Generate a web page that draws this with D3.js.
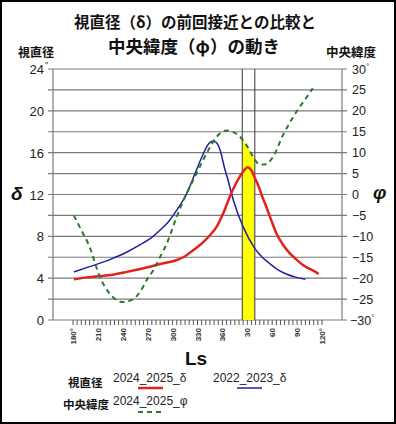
<!DOCTYPE html>
<html><head><meta charset="utf-8">
<script src="https://cdn.jsdelivr.net/npm/d3@7"></script>
<style>body{margin:0;background:#fff}</style>
</head><body>
<svg id="c" width="396" height="424"></svg>
<script>
// ---- data ----
const lsRed    = [181,200,225,245,261,285,305,315,325,335,345,353,361,369,376,381,386,390.5,395,399,403,408,413,419,425,433,441,449,457,465,470,476];
const deltaRed = [3.9,4.1,4.3,4.6,4.87,5.35,5.74,6.1,6.7,7.3,8.1,8.9,10.2,11.8,13.0,13.7,14.3,14.6,14.3,13.6,12.9,11.8,10.8,9.5,8.3,7.2,6.4,5.8,5.26,4.9,4.7,4.4];
const lsBlue    = [181,200,225,245,261,275,285,295,305,317,327,337,343,348,352,357,363,366,373,385,399,408,417,427,437,448,460];
const deltaBlue = [4.6,5.1,5.8,6.5,7.2,7.9,8.6,9.4,10.5,12.1,14.0,15.9,16.8,17.1,17.0,16.3,14.4,13.6,11.5,8.9,6.85,6.0,5.4,4.8,4.4,4.1,3.9];
const lsGreen  = [181,190,200,212,228,240,251,261,269,277,285,293,305,317,329,341,353,365,372,379,389,397,405,411,421,433,443,451,461,469];
const phiGreen = [-5,-8.5,-12.5,-19.5,-24.5,-25.7,-25.2,-23.2,-20.4,-18.0,-14.9,-11.7,-5.3,0.3,5.1,9.85,13.8,15.3,15.0,14.2,11.8,9.0,7.2,7.2,9.0,14.2,17.8,20.3,23.1,25.4];
const bandLs = [384, 399];
const xTicks = [180,210,240,270,300,330,360,390,420,450,480];
const xTickLabels = ["180°","210","240","270","300","330","360","30","60","90","120°"];
const leftTicks = [0,4,8,12,16,20,24];
const rightTicks = [-30,-25,-20,-15,-10,-5,0,5,10,15,20,25,30];
const legendNames = ["2024_2025_δ","2022_2023_δ","2024_2025_φ"];
const titleLines = ["視直径（δ）の前回接近との比較と","中央緯度（φ）の動き"];

// ---- drawing ----
const svg = d3.select("#c");
const W = 396, H = 424;
const numFont = "'Liberation Sans', Arial, sans-serif";
const jpFont = "'Noto Sans CJK JP', sans-serif";
const x = d3.scaleLinear().domain([180,480]).range([73,322]);
const yL = d3.scaleLinear().domain([0,24]).range([320,69]);
const yR = d3.scaleLinear().domain([-30,30]).range([320,69]);
const axL = 53, axR = 342;
const gridCol = "#7a7a7a";

svg.append("rect").attr("x",0).attr("y",0).attr("width",W).attr("height",H).attr("fill","#fff");

// gridlines (every 2 on left)
const gridVals = d3.range(0,25,2);
svg.append("g").selectAll("line").data(gridVals).join("line")
  .attr("x1",axL-5).attr("x2",axR+5)
  .attr("y1",d=>yL(d)).attr("y2",d=>yL(d))
  .attr("stroke",gridCol).attr("stroke-width",1.2);

// yellow band under green curve
const clipId = "bandclip";
svg.append("clipPath").attr("id",clipId).append("rect")
  .attr("x",x(bandLs[0])).attr("y",yL(24)).attr("width",x(bandLs[1])-x(bandLs[0])).attr("height",yL(0)-yL(24));
const greenPts = lsGreen.map((l,i)=>[l,phiGreen[i]]);
const area = d3.area().x(d=>x(d[0])).y0(yL(0)).y1(d=>yR(d[1])).curve(d3.curveMonotoneX);
svg.append("path").datum(greenPts).attr("d",area).attr("fill","#ffff00").attr("clip-path",`url(#${clipId})`);

// band vertical lines
svg.append("g").selectAll("line").data(bandLs).join("line")
  .attr("x1",d=>x(d)).attr("x2",d=>x(d)).attr("y1",yL(24)).attr("y2",yL(0))
  .attr("stroke","#555").attr("stroke-width",1.2);

// axis lines
svg.append("line").attr("x1",axL).attr("x2",axL).attr("y1",yL(24)).attr("y2",yL(0)).attr("stroke",gridCol).attr("stroke-width",1.2);
svg.append("line").attr("x1",axR).attr("x2",axR).attr("y1",yL(24)).attr("y2",yL(0)).attr("stroke",gridCol).attr("stroke-width",1.2);

// x minor ticks every 5
svg.append("g").selectAll("line").data(d3.range(180,481,5)).join("line")
  .attr("x1",d=>x(d)).attr("x2",d=>x(d)).attr("y1",yL(0)).attr("y2",yL(0)+5)
  .attr("stroke","#555").attr("stroke-width",1);

// x tick labels rotated
svg.append("g").selectAll("text").data(xTicks).join("text")
  .attr("transform",d=>`translate(${x(d)+3},328) rotate(-90)`)
  .attr("text-anchor","end").attr("font-family",numFont).attr("font-weight","bold")
  .attr("font-size",8).attr("fill","#333")
  .text((d,i)=>xTickLabels[i]);

// left tick labels
svg.append("g").selectAll("text").data(leftTicks).join("text")
  .attr("x",44).attr("y",d=>yL(d)+5).attr("text-anchor","end")
  .attr("font-family",numFont).attr("font-size",13).attr("fill","#222")
  .text(d=>d);
svg.append("text").attr("x",45).attr("y",yL(24)-1).attr("font-family",numFont).attr("font-size",9).attr("fill","#222").text("″");

// right tick labels
const rt = svg.append("g").selectAll("text").data(rightTicks).join("text")
  .attr("x",d=> (d===-30?350:352)).attr("y",d=>yR(d)+4.5)
  .attr("font-family",numFont).attr("font-size",12.5).attr("fill","#222");
rt.append("tspan").text(d=>d<0?("−"+Math.abs(d)):String(d));
rt.filter(d=>Math.abs(d)===30).append("tspan").attr("font-size",8).attr("dy",-5).text("°");

// curves
const line = d3.line().x(d=>x(d[0])).y(d=>d[2]).curve(d3.curveMonotoneX);
svg.append("path").datum(lsBlue.map((l,i)=>[l,deltaBlue[i],yL(deltaBlue[i])])).attr("d",line)
  .attr("fill","none").attr("stroke","#1f1f9e").attr("stroke-width",1.5);
svg.append("path").datum(lsRed.map((l,i)=>[l,deltaRed[i],yL(deltaRed[i])])).attr("d",line)
  .attr("fill","none").attr("stroke","#e2231a").attr("stroke-width",2.5);
svg.append("path").datum(lsGreen.map((l,i)=>[l,phiGreen[i],yR(phiGreen[i])])).attr("d",line)
  .attr("fill","none").attr("stroke","#2b7a2b").attr("stroke-width",2).attr("stroke-dasharray","5,4");

// title
svg.append("text").attr("x",195).attr("y",28).attr("text-anchor","middle")
  .attr("font-family",jpFont).attr("font-weight","bold").attr("font-size",15.5).attr("fill","#111")
  .text(titleLines[0]);
svg.append("text").attr("x",194).attr("y",53).attr("text-anchor","middle")
  .attr("font-family",jpFont).attr("font-weight","bold").attr("font-size",17.5).attr("fill","#111")
  .text(titleLines[1]);
svg.append("text").attr("x",18).attr("y",57).attr("font-family",jpFont).attr("font-weight","bold").attr("font-size",12).attr("fill","#111").text("視直径");
svg.append("text").attr("x",326).attr("y",57).attr("font-family",jpFont).attr("font-weight","bold").attr("font-size",12.5).attr("fill","#111").text("中央緯度");

// axis symbols
svg.append("text").attr("x",11).attr("y",200).attr("font-family",numFont).attr("font-weight","bold").attr("font-style","italic").attr("font-size",19).attr("fill","#111").text("δ");
svg.append("text").attr("x",373).attr("y",199).attr("font-family",numFont).attr("font-weight","bold").attr("font-style","italic").attr("font-size",19).attr("fill","#111").text("φ");
svg.append("text").attr("x",196).attr("y",365).attr("text-anchor","middle").attr("font-family",numFont).attr("font-weight","bold").attr("font-size",19).attr("fill","#111").text("Ls");

// legend
svg.append("text").attr("x",68).attr("y",387).attr("font-family",jpFont).attr("font-weight","bold").attr("font-size",11.5).attr("fill","#111").text("視直径");
svg.append("text").attr("x",63).attr("y",409).attr("font-family",jpFont).attr("font-weight","bold").attr("font-size",11.5).attr("fill","#111").text("中央緯度");
const legItems = [
  {tx:113, ty:382, lx:138, ly:388, col:"#e2231a", w:2.5, dash:null},
  {tx:213, ty:382, lx:237, ly:388, col:"#1f1f9e", w:1.5, dash:null},
  {tx:113, ty:405, lx:138, ly:412, col:"#2b7a2b", w:2, dash:"5,4"}
];
legItems.forEach((it,i)=>{
  svg.append("text").attr("x",it.tx).attr("y",it.ty).attr("font-family",numFont).attr("font-size",12).attr("fill","#222").text(legendNames[i]);
  const l = svg.append("line").attr("x1",it.lx).attr("x2",it.lx+25).attr("y1",it.ly).attr("y2",it.ly)
    .attr("stroke",it.col).attr("stroke-width",it.w);
  if(it.dash) l.attr("stroke-dasharray",it.dash);
});

// outer border
svg.append("rect").attr("x",1).attr("y",1).attr("width",W-2).attr("height",H-2)
  .attr("fill","none").attr("stroke","#000").attr("stroke-width",2);
</script>
</body></html>
